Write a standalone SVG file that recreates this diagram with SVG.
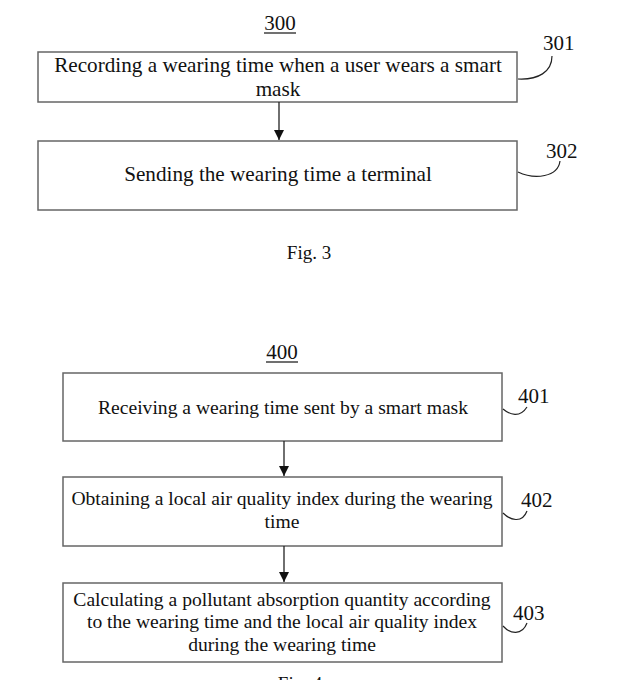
<svg xmlns="http://www.w3.org/2000/svg" width="640" height="680" viewBox="0 0 640 680">
<defs>
<marker id="ah" viewBox="0 0 10 10" refX="10" refY="5" markerWidth="10" markerHeight="10" markerUnits="userSpaceOnUse" orient="auto">
<path d="M0,0 L10,5 L0,10 z" fill="#111"/>
</marker>
<style>
.box{fill:#fff;stroke:#666;stroke-width:1.5}
.t{font-family:"Liberation Serif","Times New Roman",serif;font-size:21.2px;fill:#111;text-anchor:middle}
.t2{font-family:"Liberation Serif","Times New Roman",serif;font-size:19.6px;fill:#111;text-anchor:middle}
.lbl{font-family:"Liberation Serif","Times New Roman",serif;font-size:21px;fill:#111}
.lead{fill:none;stroke:#222;stroke-width:1.2}
.conn{stroke:#222;stroke-width:1.3;fill:none}
</style>
</defs>
<rect width="640" height="680" fill="#fff"/>

<g id="title300">
<text class="lbl" x="280" y="30" text-anchor="middle">300</text>
<line x1="264" y1="33" x2="296" y2="33" stroke="#111" stroke-width="1.2"/>
</g>

<g id="node301">
<rect class="box" x="38" y="52" width="479" height="50"/>
<text class="t" x="278" y="72">Recording a wearing time when a user wears a smart</text>
<text class="t" x="278" y="96">mask</text>
<text class="lbl" x="543" y="50">301</text>
<path class="lead" d="M518,79 C538,80 552,72 552,56"/>
</g>

<g id="node302">
<rect class="box" x="38" y="141" width="479" height="69"/>
<text class="t" x="278" y="181">Sending the wearing time a terminal</text>
<text class="lbl" x="546" y="158">302</text>
<path class="lead" d="M518,172 C535,180 558,177 560,161"/>
</g>

<g id="fig3">
<text class="t" x="309" y="259" style="font-size:19px">Fig. 3</text>
</g>

<g id="title400">
<text class="lbl" x="282" y="359" text-anchor="middle">400</text>
<line x1="266" y1="362" x2="298" y2="362" stroke="#111" stroke-width="1.2"/>
</g>

<g id="node401">
<rect class="box" x="63" y="373" width="439" height="68"/>
<text class="t2" x="283" y="414">Receiving a wearing time sent by a smart mask</text>
<text class="lbl" x="518" y="403">401</text>
<path class="lead" d="M503,409 C510,415 520,418 527,407"/>
</g>

<g id="node402">
<rect class="box" x="63" y="477" width="439" height="69"/>
<text class="t2" x="282" y="505">Obtaining a local air quality index during the wearing</text>
<text class="t2" x="282" y="528">time</text>
<text class="lbl" x="521" y="507">402</text>
<path class="lead" d="M503,513 C510,520 522,524 527,511"/>
</g>

<g id="node403">
<rect class="box" x="63" y="583" width="439" height="79"/>
<text class="t2" x="282" y="606">Calculating a pollutant absorption quantity according</text>
<text class="t2" x="282" y="628">to the wearing time and the local air quality index</text>
<text class="t2" x="282" y="651">during the wearing time</text>
<text class="lbl" x="513" y="620">403</text>
<path class="lead" d="M503,626 C510,634 522,636 527,623"/>
</g>

<g id="fig4">
<text class="t" x="300" y="690" style="font-size:19px">Fig. 4</text>
</g>

<g id="connectors">
<line class="conn" x1="279" y1="102" x2="279" y2="140" marker-end="url(#ah)"/>
<line class="conn" x1="284" y1="441" x2="284" y2="476" marker-end="url(#ah)"/>
<line class="conn" x1="284" y1="546" x2="284" y2="582" marker-end="url(#ah)"/>
</g>
</svg>
